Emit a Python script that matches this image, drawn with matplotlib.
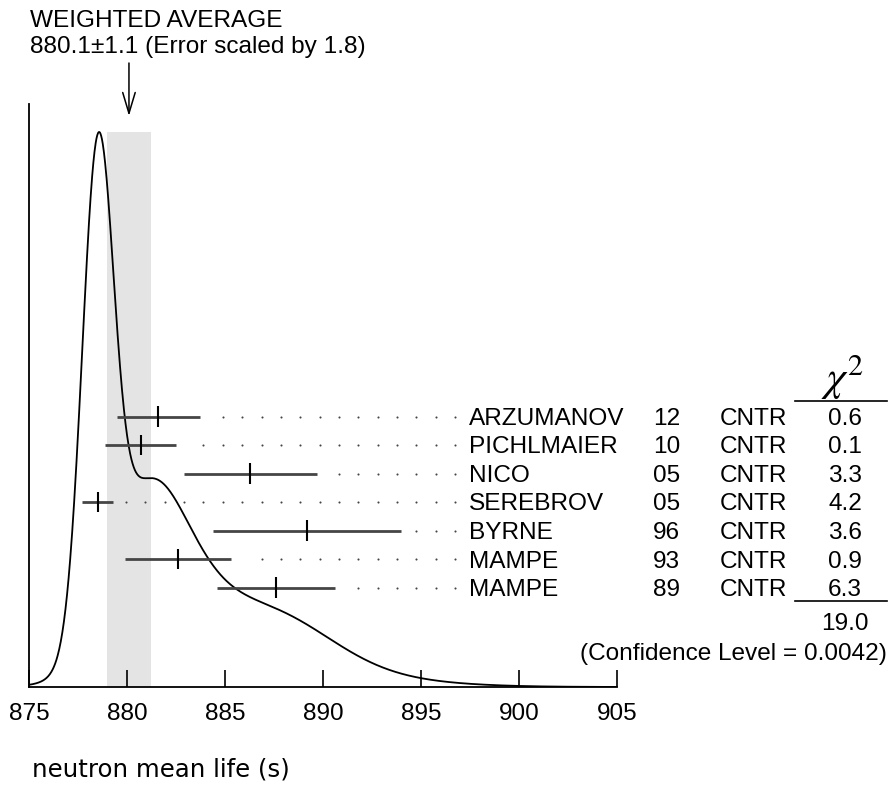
"""
PDG-style ideogram: neutron mean life measurements.
"""

import numpy as np
import matplotlib
matplotlib.use("Agg")
import matplotlib.pyplot as plt
from matplotlib.transforms import blended_transform_factory

# ------------------------------------------------------------------
# data
authors = ["ARZUMANOV", "PICHLMAIER", "NICO", "SEREBROV", "BYRNE", "MAMPE", "MAMPE"]
years = ["12", "10", "05", "05", "96", "93", "89"]
techniques = ["CNTR"] * 7
values = [881.6, 880.7, 886.3, 878.5, 889.2, 882.6, 887.6]
errors = [2.1, 1.8, 3.4, 0.8, 4.8, 2.7, 3.0]
chi2 = ["0.6", "0.1", "3.3", "4.2", "3.6", "0.9", "6.3"]
chi2_total = "19.0"
conf_level = "0.0042"
avg, avg_err, scale = 880.1, 1.1, 1.8
xticks = [875, 880, 885, 890, 895, 900, 905]

# ------------------------------------------------------------------
# layout (pixels of the 888x789 picture)
W, H = 888, 789
AX_L, AX_R, AX_T, AX_B = 29, 617, 104, 687
ROW0, ROW_STEP = 416.7, 28.5
FONT = "Liberation Sans"
FS = 17.6

def fx(px):
    return px / W

def fy(py):
    return 1 - py / H

plt.rcParams["font.family"] = [FONT, "DejaVu Sans"]

fig = plt.figure(figsize=(W / 100, H / 100), dpi=100)
pos = [fx(AX_L), fy(AX_B), (AX_R - AX_L) / W, (AX_B - AX_T) / H]
ax = fig.add_axes(pos)
ax2 = fig.add_axes(pos, frameon=False)   # rows of the table, y = row index
ax2.set_axis_off()

# ideogram: each measurement a gaussian of area ~ 1/sigma
x = np.linspace(875, 905, 1500)
curve = np.zeros_like(x)
for v, e in zip(values, errors):
    curve += np.exp(-0.5 * ((x - v) / e) ** 2) / e ** 2
peak = curve.max()
ymax = peak * (AX_B - AX_T) / (AX_B - 132)

ax.plot(x, curve, color="black", lw=1.3, zorder=3)
ax.axvspan(avg - avg_err, avg + avg_err, ymin=0, ymax=peak / ymax,
           color="#e4e4e4", lw=0, zorder=0)

ax.set_xlim(875, 905)
ax.set_ylim(0, ymax)
ax.set_xticks(xticks)
ax.set_xticklabels([str(t) for t in xticks], fontsize=FS)
ax.set_yticks([])
ax.tick_params(axis="x", direction="in", length=12.2, width=1.2, pad=11.5)
for s in ["top", "right"]:
    ax.spines[s].set_visible(False)
for s in ["left", "bottom"]:
    ax.spines[s].set_linewidth(1.3)

# rows
r_top = (AX_T - ROW0) / ROW_STEP
r_bot = (AX_B - ROW0) / ROW_STEP
ax2.set_xlim(875, 905)
ax2.set_ylim(r_bot, r_top)
rows = np.arange(len(values))
v = np.array(values)
e = np.array(errors)
ax2.hlines(rows, v - e, v + e, color="#454545", lw=2.0, zorder=4)
ax2.vlines(v, rows - 0.36, rows + 0.36, color="black", lw=1.5, zorder=5)

# dotted leaders to the labels
dots = 879.95 + 0.988 * np.arange(18)
for r, hi in zip(rows, v + e):
    d = dots[dots > hi + 0.6]
    ax2.plot(d, np.full(len(d), r), "o", ms=1.5, color="#444444", mec="none",
             clip_on=False)

# table text
tr = blended_transform_factory(fig.transFigure, ax2.transData)
base = 8.3 / ROW_STEP
for r in rows:
    ax2.text(fx(469), r + base, authors[r], transform=tr, fontsize=FS,
             va="baseline", ha="left")
    ax2.text(fx(653), r + base, years[r], transform=tr, fontsize=FS,
             va="baseline", ha="left")
    ax2.text(fx(720), r + base, techniques[r], transform=tr, fontsize=FS,
             va="baseline", ha="left")
    ax2.text(fx(845), r + base, chi2[r], transform=tr, fontsize=FS,
             va="baseline", ha="center")

fig.add_artist(plt.Line2D([fx(795), fx(887)], [fy(400.7), fy(400.7)],
                          color="black", lw=1.2))
fig.add_artist(plt.Line2D([fx(795), fx(887)], [fy(601), fy(601)],
                          color="black", lw=1.2))
fig.text(fx(843), fy(391), r"$\chi^2$", fontsize=31, ha="center",
         va="baseline", math_fontfamily="stix")
fig.text(fx(845), fy(630), chi2_total, fontsize=FS, ha="center", va="baseline")
fig.text(fx(887), fy(660), f"(Confidence Level = {conf_level})", fontsize=FS,
         ha="right", va="baseline")

# weighted average header + arrow
fig.text(fx(30), fy(27), "WEIGHTED AVERAGE", fontsize=FS, va="baseline")
fig.text(fx(30), fy(53), f"{avg}\u00b1{avg_err} (Error scaled by {scale})",
         fontsize=FS, va="baseline")
bt = blended_transform_factory(ax.transData, fig.transFigure)
ax.annotate("", xy=(avg, fy(116)), xycoords=bt, xytext=(avg, fy(63)),
            textcoords=bt, annotation_clip=False,
            arrowprops=dict(arrowstyle="->,head_length=1.5,head_width=0.45",
                            color="black", lw=1.1, shrinkA=0, shrinkB=0))

fig.text(fx(32), fy(777), "neutron mean life (s)", fontsize=FS,
         family="DejaVu Sans", va="baseline")

fig.savefig("out.png", dpi=100)
